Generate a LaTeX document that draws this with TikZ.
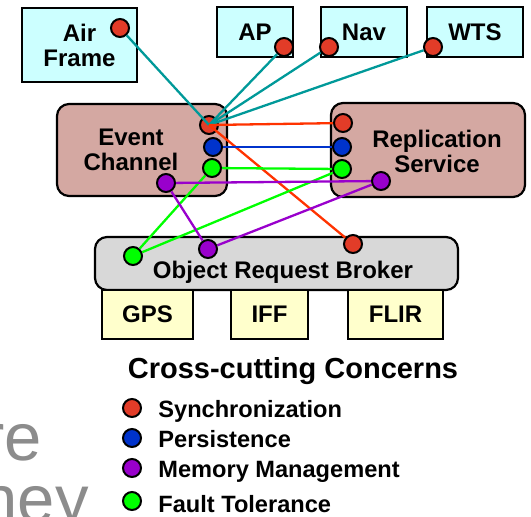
\documentclass[tikz,border=0pt]{standalone}
\usepackage{fontspec}
\setmainfont{Liberation Sans}
\definecolor{skyfill}{HTML}{CCFFFF}
\definecolor{rosefill}{HTML}{D4A8A2}
\definecolor{orbfill}{HTML}{D8D8D8}
\definecolor{devfill}{HTML}{FFFFCC}
\definecolor{syncred}{HTML}{E23C28}
\definecolor{syncline}{HTML}{FF3300}
\definecolor{persblue}{HTML}{0033CC}
\definecolor{mempurple}{HTML}{9900CC}
\definecolor{ftgreen}{HTML}{00FF00}
\definecolor{wireteal}{HTML}{009999}
\definecolor{ghost}{HTML}{8C8C8C}

\begin{document}
\begin{tikzpicture}[x=0.5pt,y=-0.5pt,
  every node/.style={inner sep=0pt},
  comp/.style={draw,line width=1.1pt,fill=skyfill,align=center,
    font=\fontsize{12}{12.5}\selectfont\bfseries},
  dev/.style={draw,line width=1.1pt,fill=devfill,
    font=\fontsize{12}{12.5}\selectfont\bfseries},
  svc/.style={draw,line width=1.1pt,rounded corners=6pt},
  lbl/.style={font=\fontsize{12}{12.5}\selectfont\bfseries,align=center},
  key/.style={font=\fontsize{11.8}{12}\selectfont\bfseries},
  dot/.style={circle,draw,line width=1pt,minimum size=9pt},
  conn/.style={line width=1.15pt}]
\useasboundingbox (0,0) rectangle (531,516);

% components on top
\node[comp,minimum width=57.5pt,minimum height=37pt] (air) at (79.5,45) {Air\\Frame};
\node[comp,minimum width=38pt,minimum height=25pt] (ap) at (255,32) {AP};
\node[comp,minimum width=43pt,minimum height=25pt] (nav) at (364,32) {Nav};
\node[comp,minimum width=48pt,minimum height=25pt] (wts) at (475,32) {WTS};

% services
\node[svc,fill=rosefill,minimum width=85pt,minimum height=46pt] (ec) at (142,150) {};
\node[lbl] (ectext) at (131,150) {Event\\Channel};
\node[svc,fill=rosefill,minimum width=97pt,minimum height=47pt] (rs) at (428,150) {};
\node[lbl] (rstext) at (437,151) {Replication\\Service};

% broker and devices
\node[svc,fill=orbfill,minimum width=181.5pt,minimum height=26.5pt] (orb) at (276.5,263.5) {};
\node[lbl,anchor=base] (orbtext) at (283,278) {Object Request Broker};
\node[dev,minimum width=45.5pt,minimum height=24.5pt] (gps) at (147.5,314.5) {GPS};
\node[dev,minimum width=38.5pt,minimum height=24.5pt] (iff) at (269.5,314.5) {IFF};
\node[dev,minimum width=47.5pt,minimum height=24.5pt] (flir) at (395.5,314.5) {FLIR};

% concern dots
\node[dot,fill=syncred] (airS) at (120,28) {};
\node[dot,fill=syncred] (apS) at (284,47) {};
\node[dot,fill=syncred] (navS) at (329,47) {};
\node[dot,fill=syncred] (wtsS) at (433,47) {};
\node[dot,fill=syncred] (ecS) at (209,125) {};
\node[dot,fill=persblue] (ecP) at (213,147) {};
\node[dot,fill=ftgreen] (ecF) at (212,168) {};
\node[dot,fill=mempurple] (ecM) at (166,183) {};
\node[dot,fill=syncred] (rsS) at (343,123) {};
\node[dot,fill=persblue] (rsP) at (342,147) {};
\node[dot,fill=ftgreen] (rsF) at (342,169) {};
\node[dot,fill=mempurple] (rsM) at (381,181) {};
\node[dot,fill=ftgreen] (orbF) at (133,256) {};
\node[dot,fill=mempurple] (orbM) at (208,249) {};
\node[dot,fill=syncred] (orbS) at (353,244) {};

% wires
\draw[conn,wireteal] (airS)--(ecS.center);
\draw[conn,wireteal] (apS)--(ecS.center);
\draw[conn,wireteal] (navS)--(ecS.center);
\draw[conn,wireteal] (wtsS)--(ecS.center);
\draw[conn,syncline] (ecS.center)--(rsS);
\draw[conn,syncline] (ecS.center)--(orbS);
\draw[conn,persblue] (ecP)--(rsP);
\draw[conn,ftgreen] (ecF)--(rsF);
\draw[conn,ftgreen] (ecF)--(orbF);
\draw[conn,ftgreen] (rsF)--(orbF);
\draw[conn,mempurple] (ecM)--(rsM);
\draw[conn,mempurple] (ecM)--(orbM);
\draw[conn,mempurple] (rsM)--(orbM);

% legend
\node[font=\fontsize{14.5}{15}\selectfont\bfseries,anchor=base] (title) at (293,378) {Cross-cutting Concerns};
\node[dot,fill=syncred] (keyS) at (132,408) {};
\node[key,anchor=base west] (keySt) at (158,417) {Synchronization};
\node[dot,fill=persblue] (keyP) at (132,438) {};
\node[key,anchor=base west] (keyPt) at (158,447) {Persistence};
\node[dot,fill=mempurple] (keyM) at (132,468) {};
\node[key,anchor=base west] (keyMt) at (158,477) {Memory Management};
\node[dot,fill=ftgreen] (keyF) at (132,501) {};
\node[key,anchor=base west] (keyFt) at (158,512) {Fault Tolerance};

% cut-off slide text
\node[text=ghost,font=\fontsize{33.5}{40}\selectfont,anchor=base east] (ghostA) at (42,460) {re};
\node[text=ghost,font=\fontsize{33.5}{40}\selectfont,anchor=base east] (ghostB) at (89,522) {ney};
\end{tikzpicture}
\end{document}
